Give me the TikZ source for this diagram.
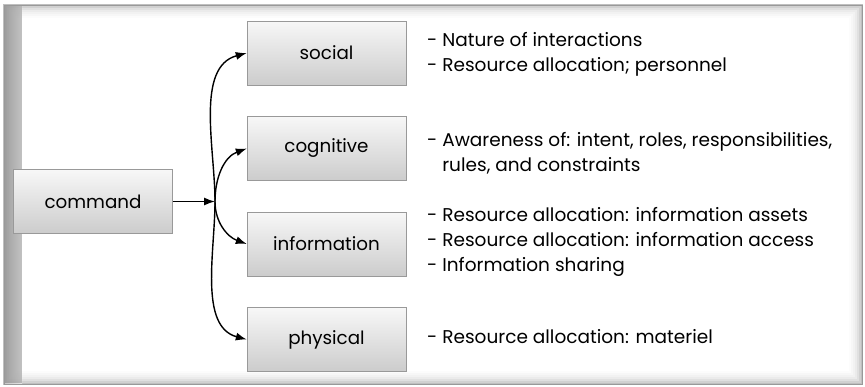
\documentclass[tikz,border=0pt]{standalone}
\usepackage{fontspec}
\setmainfont{Poppins}
\usetikzlibrary{positioning,arrows.meta}
\tikzset{>={Latex[length=11pt,width=8pt]}}
\tikzset{
  box/.style={draw=gray!80,top color=black!3,bottom color=black!20,
    minimum width=159pt,minimum height=64pt,inner sep=0pt,font=\fontsize{18.3}{20}\selectfont},
  notes/.style={anchor=west,align=left,inner sep=0pt,font=\fontsize{18.5}{25}\selectfont},
  link/.style={->,line width=1.4pt}
}

\begin{document}
\begin{tikzpicture}[x=1pt,y=-1pt]
\useasboundingbox (0,0) rectangle (865,386);
% frame with inner shadow
\fill[white] (4,5) rectangle (862,384);
\foreach \i/\c in {0/25,2/18,4/12,6/8,8/5,10/3,12/1}
  \draw[line width=2.2pt,black!\c] (4+\i,5+\i) rectangle (862-\i,384-\i);
\fill[left color=black!18,right color=white,opacity=.6] (5,6) rectangle (22,383);
\draw[gray!80,line width=.8pt] (4,5) rectangle (862,384);
% boxes
\node[box] (command) at (93,201.5) {command};
\node[box] (social) at (326.5,53) {social};
\node[box] (cognitive) at (326.5,148.5) {cognitive};
\node[box] (information) at (326.5,244) {information};
\node[box] (physical) at (326.5,339.5) {physical};
\coordinate (junction) at (215,201.5);
% arrows
\draw[link] (command) -- (junction);
\draw[link] (junction) to[out=90,in=195,looseness=.9] (social.west);
\draw[link] (junction) to[out=90,in=200] (cognitive.west);
\draw[link] (junction) to[out=-90,in=160] (information.west);
\draw[link] (junction) to[out=-90,in=165,looseness=.9] (physical.west);
% notes
\node[notes] (socialnotes) at (427,54) {- Nature of interactions\\- Resource allocation; personnel};
\node[notes] (cognitivenotes) at (427,153) {- Awareness of: intent, roles, responsibilities,\\\phantom{- }rules, and constraints};
\node[notes] (informationnotes) at (427,242) {- Resource allocation: information assets\\- Resource allocation: information access\\- Information sharing};
\node[notes] (physicalnotes) at (427,337) {- Resource allocation: materiel};
\end{tikzpicture}
\end{document}
